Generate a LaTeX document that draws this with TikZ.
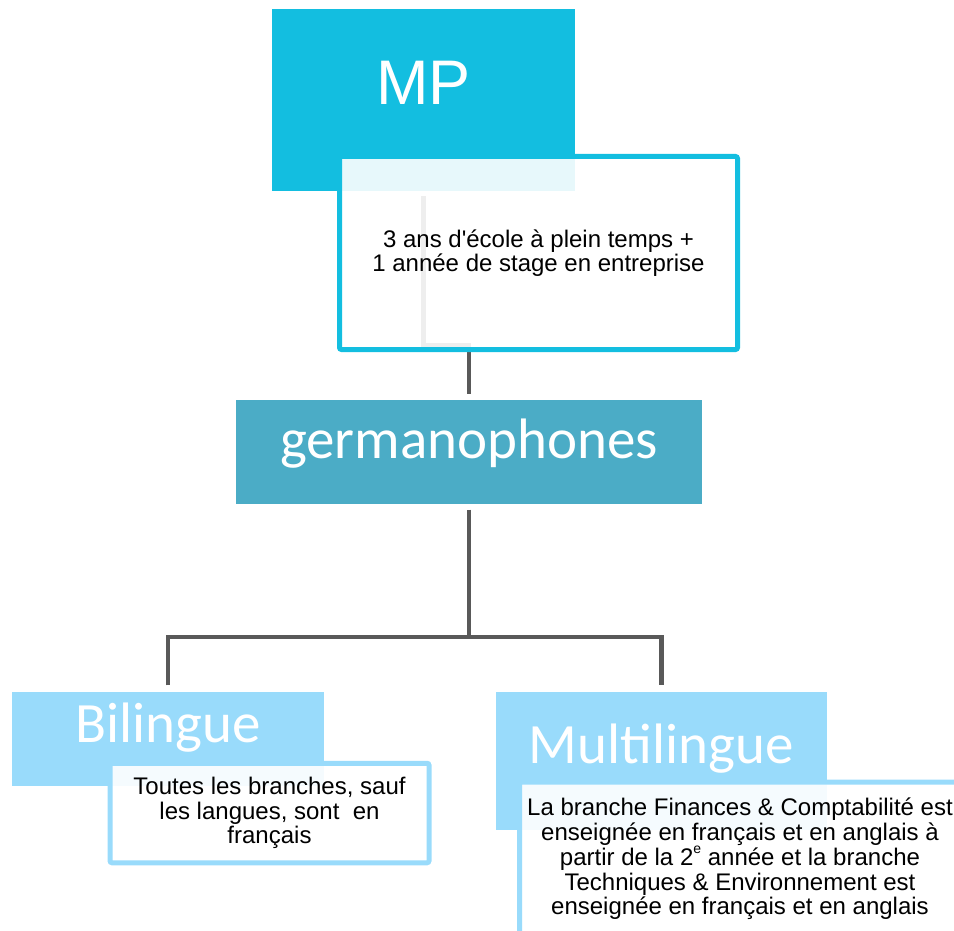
\documentclass[tikz,border=0pt]{standalone}
\usepackage{fontspec}
\setmainfont{Liberation Sans}[Ligatures=TeXOff]
\newfontfamily\headfont{Carlito}
\usepackage{tikz}
\usetikzlibrary{positioning}
\definecolor{mpblue}{RGB}{19,190,224}
\definecolor{germteal}{RGB}{75,172,198}
\definecolor{lightblue}{RGB}{153,219,251}
\definecolor{linkgrey}{RGB}{89,89,89}

\begin{document}
\begin{tikzpicture}[
    x=1pt, y=-1pt,
    head/.style={fill=#1, inner sep=0pt},
    headtext/.style={text=white, inner sep=0pt,
      font=\headfont\fontsize{57}{60}\selectfont},
    note/.style={draw=#1, line width=5pt, fill=white, fill opacity=0.9,
      text opacity=1, rounded corners=2pt, align=center, inner sep=0pt,
      font=\fontsize{24}{24.5}\selectfont},
    link/.style={draw=linkgrey, line width=4.5pt}
  ]
    \useasboundingbox (0,0) rectangle (954,931);
    \clip (0,0) rectangle (954,931);
    \node[head=mpblue, minimum width=303pt, minimum height=181.5pt] (mp)
      at (423.5,100) {};
    \node[head=germteal, minimum width=466.6pt, minimum height=104pt] (germ)
      at (469,452) {};
    \node[head=lightblue, minimum width=312.6pt, minimum height=94.3pt] (bil)
      at (168,738.8) {};
    \node[head=lightblue, minimum width=330.7pt, minimum height=138.3pt] (multi)
      at (661.3,760.8) {};
    \node[text=white, inner sep=0pt, font=\fontsize{63}{64}\selectfont] (mptext)
      at ([yshift=17pt]mp.center) {MP};
    \node[headtext] (germtext) at ([yshift=8pt]germ.center) {germanophones};
    \node[headtext] (biltext) at ([yshift=11pt]bil.center) {Bilingue};
    \node[headtext] (multitext) at ([yshift=12pt]multi.center) {Multilingue};
    \draw[link] ([yshift=-5pt]mp.south) -- ++(0,149) -| ([yshift=6pt]germ.north);
    \draw[link] ([yshift=-5.5pt]germ.south) -- ++(0,127.5) coordinate (fork);
    \draw[link] ([yshift=6pt]bil.north) |- (fork) -| ([yshift=6pt]multi.north);
    \node[note=mpblue, minimum width=398pt, minimum height=193pt] (mpnote)
      at (538.5,253)
      {3 ans d'école à plein temps +\\1 année de stage en entreprise};
    \node[note=lightblue, minimum width=319pt, minimum height=99.5pt] (bilnote)
      at (269.5,813)
      {Toutes les branches, sauf\\les langues, sont\ \ en\\français};
    \node[note=lightblue, minimum width=441pt, minimum height=154pt] (multinote)
      at (740,859)
      {La branche Finances \& Comptabilité est\\
       enseignée en français et en anglais à\\
       partir de la 2\raisebox{0.5em}{\fontsize{14}{14}\selectfont e} année et la branche\\
       Techniques \& Environnement est\\
       enseignée en français et en anglais};
  \end{tikzpicture}
\end{document}
